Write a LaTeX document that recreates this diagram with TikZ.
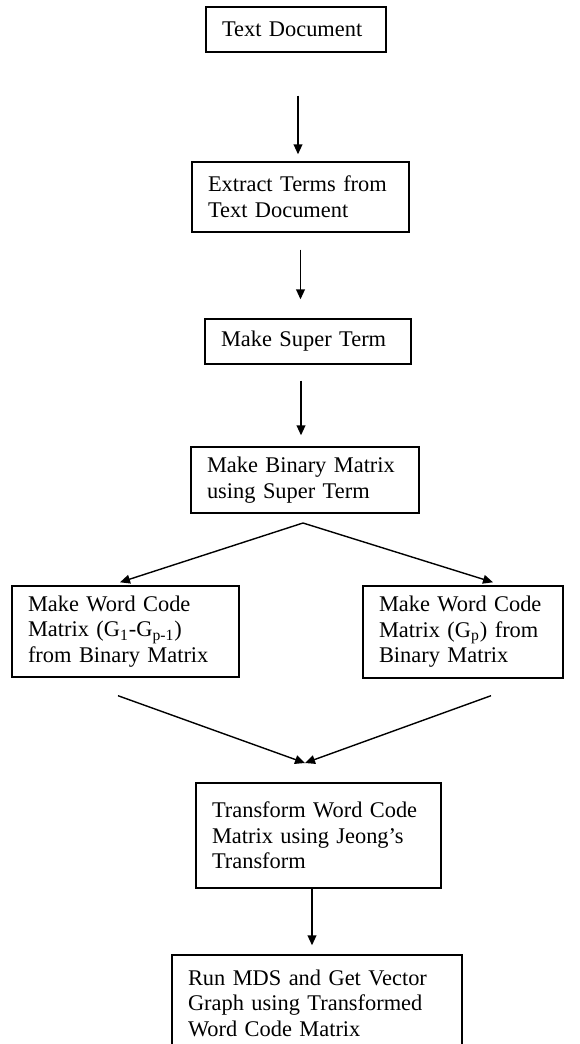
\documentclass[tikz,border=0pt]{standalone}
\usepackage{fontspec}
\setmainfont{Liberation Serif}
\usetikzlibrary{arrows.meta, positioning, calc}

\begin{document}
\begin{tikzpicture}[x=0.5pt, y=-0.5pt,
    box/.style 2 args={draw, line width=0.7pt, align=left, text width=#1,
        minimum height=#2, inner xsep=8pt, inner ysep=0pt,
        font=\fontsize{11.2}{12.8}\selectfont},
    flow/.style={-{Triangle[length=5pt, width=4.4pt]}, line width=0.7pt}]
    \useasboundingbox (0,0) rectangle (579,1044);

    % Steps of the pipeline
    \node[box={74pt}{22.5pt}] (doc) at (296,29.5) {Text Document};
    \node[box={92.5pt}{35pt}] (extract) at (300.5,197) {Extract Terms from\\Text Document};
    \node[box={87pt}{22.5pt}] (super) at (308,341.5) {Make Super Term};
    \node[box={98pt}{33pt}] (binary) at (305,480) {Make Binary Matrix\\using Super Term};

    % Two word code branches
    \node[box={97.5pt}{45.5pt}] (codeL) at (125.5,631.5)
        {Make Word Code\\Matrix (G\textsubscript{1}-G\textsubscript{p-1})\\from Binary Matrix};
    \node[box={84pt}{46pt}] (codeR) at (463,632)
        {Make Word Code\\Matrix (G\textsubscript{p}) from\\Binary Matrix};

    \node[box={106.5pt}{52.5pt}] (jeong) at (318.5,835.5)
        {Transform Word Code\\Matrix using Jeong’s\\Transform};
    \node[box={129pt}{48pt}] (mds) at (317,1003)
        {Run MDS and Get Vector\\Graph using Transformed\\Word Code Matrix};

    % Straight arrows
    \draw[flow, shorten <=21.5pt, shorten >=3.5pt] ([xshift=1pt]doc.south) -- ([xshift=1pt]doc.south |- extract.north);
    \draw[flow, shorten <=8.5pt, shorten >=9.5pt] (extract.south) -- (extract.south |- super.north);
    \draw[flow, shorten <=8pt, shorten >=5.5pt] ([xshift=-2pt]super.south -| binary.north) -- ([xshift=-2pt]binary.north);

    % Split into the two branches
    \coordinate (split) at (303,523);
    \draw[flow] (split) -- ($(codeL.north)+(-5.5,-3)$);
    \draw[flow] (split) -- ($(codeR.north)+(30,-3)$);

    % Join again
    \coordinate (join) at (305,763);
    \draw[flow] ($(codeL.south)+(-7.5,18)$) -- (join);
    \draw[flow] ($(codeR.south)+(28,17)$) -- (join);

    \draw[flow, shorten >=4.5pt] ([xshift=-3.25pt]jeong.south) -- ([xshift=-3.25pt]jeong.south |- mds.north);
\end{tikzpicture}
\end{document}
